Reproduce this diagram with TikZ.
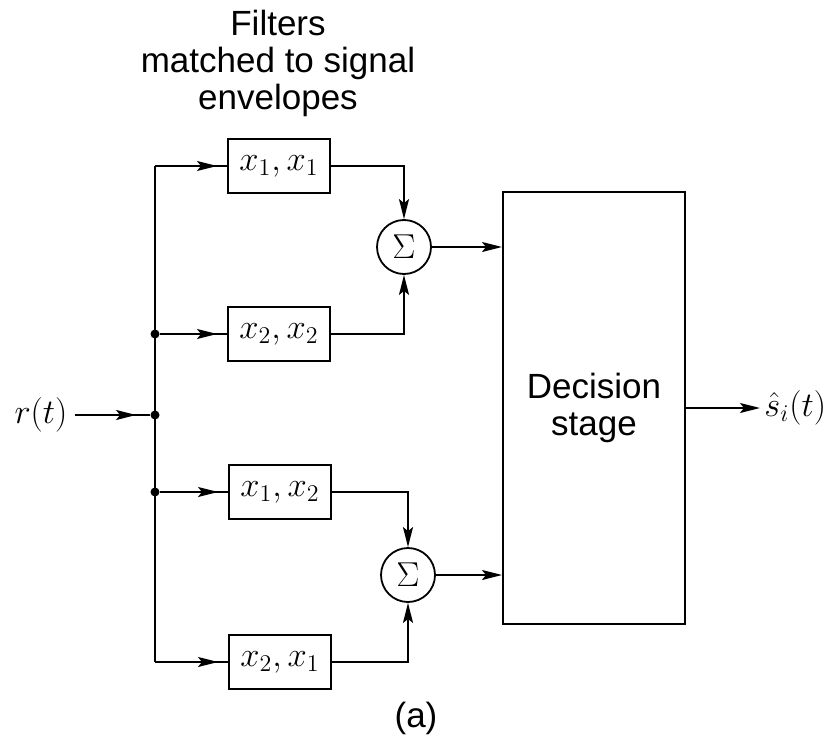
\documentclass[tikz,border=0pt]{standalone}
\usepackage{fontspec}
\setmainfont{Liberation Sans}
\usepackage{tikz}
\usetikzlibrary{positioning,arrows.meta,calc,decorations.markings}
\tikzset{
    filterbox/.style={
        draw, line width=1pt,
        minimum width=51pt, minimum height=27pt,
        inner sep=1pt, font=\fontsize{18}{20}\selectfont
    },
    sumnode/.style={
        draw, circle, line width=0.9pt,
        minimum size=27pt, inner sep=0pt,
        font=\fontsize{16}{18}\selectfont
    },
    decisionbox/.style={
        draw, line width=1pt,
        minimum width=91pt, minimum height=216pt,
        align=center, font=\fontsize{17.5}{18.5}\selectfont
    },
    signal/.style={font=\fontsize{17}{19}\selectfont},
    junction/.style={circle, fill, inner sep=0pt, minimum size=4.5pt},
    tip/.tip={Stealth[length=10pt, width=5pt, inset=2pt]},
    arrow/.style={-tip, line width=1pt},
    wire/.style={line width=1pt},
    feedarrow/.style={
        line width=1pt, postaction={decorate},
        decoration={markings, mark=at position #1 with {\arrow{tip}}}
    },
    feedarrow/.default=-5pt,
}
\begin{document}
\begin{tikzpicture}[x=0.5pt, y=-0.5pt]
    \useasboundingbox (0,0) rectangle (834,754);
    % heading
    \node[align=center, font=\fontsize{17.5}{18.5}\selectfont] (heading) at (278,63)
        {Filters\\matched to signal\\envelopes};
    % matched filters
    \node[filterbox] (f1) at (279,166) {$x_1, x_1$};
    \node[filterbox] (f2) at (279,334) {$x_2, x_2$};
    \node[filterbox] (f3) at (280,492) {$x_1, x_2$};
    \node[filterbox] (f4) at (280,662) {$x_2, x_1$};
    % summers
    \node[sumnode] (s1) at (404,247) {$\Sigma$};
    \node[sumnode] (s2) at (408,575) {$\Sigma$};
    % decision
    \node[decisionbox] (dec) at (594,408) {Decision\\stage};
    % input and output
    \node[signal] (rin) at (41,415) {$r(t)$};
    \node[signal, right=37pt of dec.east, anchor=west, inner sep=2pt] (shat) {$\hat{s}_i(t)$};
    % bus
    \coordinate (bustop) at (155,166);
    \coordinate (busbot) at (155,662);
    \node[junction] (j2) at (155,334) {};
    \node[junction] (jr) at (155,415) {};
    \node[junction] (j3) at (155,492) {};
    \draw[wire] (bustop) -- (busbot);
    \draw[feedarrow=-7pt] (rin) -- (jr);
    \draw[feedarrow] (bustop) -- (f1);
    \draw[feedarrow] (j2) -- (f2);
    \draw[feedarrow] (j3) -- (f3);
    \draw[feedarrow] (busbot) -- (f4);
    \draw[arrow] (f1) -| (s1);
    \draw[arrow] (f2) -| (s1);
    \draw[arrow] (f3) -| (s2);
    \draw[arrow] (f4) -| (s2);
    \draw[arrow] (s1) -- (s1 -| dec.west);
    \draw[arrow] (s2) -- (s2 -| dec.west);
    \draw[arrow] (dec) -- (shat);
    \node[font=\fontsize{17.5}{19}\selectfont] (caption) at (416,718) {(a)};
\end{tikzpicture}
\end{document}
